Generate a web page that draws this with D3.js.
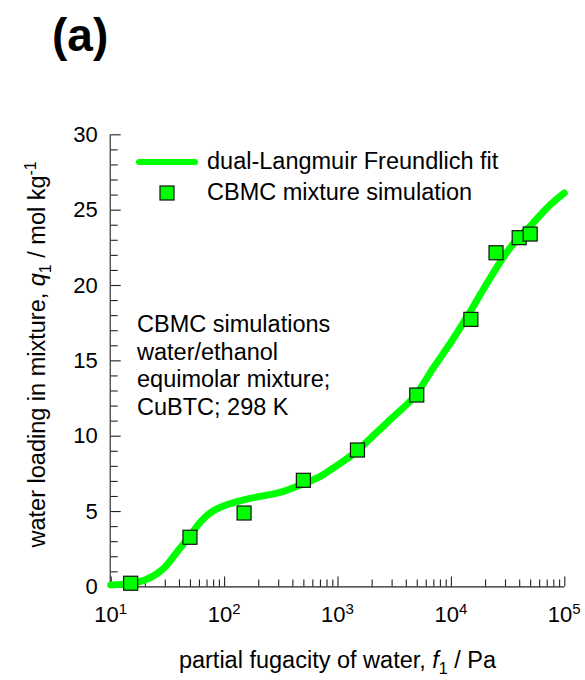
<!DOCTYPE html>
<html>
<head>
<meta charset="utf-8">
<script src="https://cdn.jsdelivr.net/npm/d3@7"></script>
<style>
  html, body { margin: 0; padding: 0; background: #fff; }
  svg { display: block; font-family: Arial, "Liberation Sans", sans-serif; }
</style>
</head>
<body>
<svg id="chart" width="585" height="680"></svg>
<script>
// Dual-Langmuir-Freundlich fit of the water loading (fugacity in Pa, loading in mol/kg)
const fitFugacity = [10, 15, 20, 30, 40, 50, 60, 70, 80, 100, 150, 200, 300, 500, 700,
  1000, 1500, 2000, 3000, 5000, 7000, 10000, 15000, 20000, 30000, 40000, 50000, 70000, 100000];
const fitLoading = [0.1, 0.2, 0.42, 1.27, 2.45, 3.35, 4.15, 4.68, 5.0, 5.35, 5.75, 5.95, 6.2, 6.8, 7.28,
  8.05, 9.0, 9.9, 11.15, 12.8, 14.5, 16.2, 18.3, 19.9, 22.0, 23.2, 23.9, 25.1, 26.1];

// CBMC mixture simulation points
const simFugacity = [15, 50, 150, 500, 1500, 5000, 15000, 25000, 40000, 50000];
const simLoading = [0.21, 3.26, 4.87, 7.04, 9.05, 12.7, 17.72, 22.14, 23.14, 23.38];

// Axis ticks
const xDecades = [1, 2, 3, 4, 5];          // exponents of the labelled decades
const yTicks = [0, 5, 10, 15, 20, 25, 30];

const legendLabels = ["dual-Langmuir Freundlich fit", "CBMC mixture simulation"];
const noteLines = ["CBMC simulations", "water/ethanol", "equimolar mixture;", "CuBTC; 298 K"];

const green = "#00ff00";
const axisColor = "#222";
const fontSize = 23.5;
const tickFont = 22;

const svg = d3.select("#chart");
const margin = { left: 110.7, top: 134.3, right: 20.7, bottom: 93.6 };
const W = 585 - margin.left - margin.right;
const H = 680 - margin.top - margin.bottom;

const x = d3.scaleLog().domain([10, 1e5]).range([0, W]);
const y = d3.scaleLinear().domain([0, 30]).range([H, 0]);

const g = svg.append("g").attr("transform", `translate(${margin.left},${margin.top})`);

// Panel label
svg.append("text")
  .attr("x", 52).attr("y", 51)
  .attr("font-size", 46).attr("font-weight", "bold")
  .text("(a)");

// X axis: major decade ticks and minor ticks, pointing inward
const minorX = [];
for (let e = 1; e < 5; e++) for (let m = 2; m <= 9; m++) minorX.push(m * Math.pow(10, e));

const xMajor = g.append("g").attr("transform", `translate(0,${H})`)
  .call(d3.axisBottom(x).tickValues(xDecades.map(e => Math.pow(10, e))).tickSize(-10).tickFormat(""));
const xMinor = g.append("g").attr("transform", `translate(0,${H})`)
  .call(d3.axisBottom(x).tickValues(minorX).tickSize(-7).tickFormat(""));
xMinor.select(".domain").remove();

// Decade labels with superscript exponents
const xLab = g.append("g").attr("font-size", tickFont).attr("text-anchor", "middle");
xDecades.forEach(e => {
  const t = xLab.append("text").attr("x", x(Math.pow(10, e))).attr("y", H + 35.5);
  t.append("tspan").text("10");
  t.append("tspan").attr("font-size", 15).attr("dy", -8).text(e);
});

// Y axis: major every 5, minor every 1, pointing inward
const yMajor = g.append("g")
  .call(d3.axisLeft(y).tickValues(yTicks).tickSize(-10).tickPadding(13));
yMajor.selectAll("text").attr("font-size", tickFont).attr("font-family", null).attr("fill", "#000");
const yMinor = g.append("g")
  .call(d3.axisLeft(y).tickValues(d3.range(0, 31).filter(v => v % 5 !== 0)).tickSize(-7).tickFormat(""));
yMinor.select(".domain").remove();

g.selectAll(".domain, .tick line").attr("stroke", axisColor).attr("stroke-width", 1.1);
// plain axis lines without end caps
xMajor.select(".domain").attr("d", `M0,0.5H${W}`);
yMajor.select(".domain").attr("d", `M-0.5,${H}V0`);

// Fit curve
const fit = fitFugacity.map((f, i) => [f, fitLoading[i]]);
g.append("path")
  .datum(fit)
  .attr("fill", "none")
  .attr("stroke", green)
  .attr("stroke-width", 7)
  .attr("stroke-linecap", "round")
  .attr("stroke-linejoin", "round")
  .attr("d", d3.line().x(d => x(d[0])).y(d => y(d[1])).curve(d3.curveMonotoneX));

// Simulation squares
const sq = 14;
g.append("g").selectAll("rect")
  .data(simFugacity.map((f, i) => [f, simLoading[i]]))
  .join("rect")
  .attr("x", d => x(d[0]) - sq / 2)
  .attr("y", d => y(d[1]) - sq / 2)
  .attr("width", sq).attr("height", sq)
  .attr("fill", green)
  .attr("stroke", "#111")
  .attr("stroke-width", 1.2);

// Legend
const leg = svg.append("g").attr("font-size", fontSize);
leg.append("line")
  .attr("x1", 139).attr("x2", 195).attr("y1", 162).attr("y2", 162)
  .attr("stroke", green).attr("stroke-width", 6).attr("stroke-linecap", "round");
leg.append("text").attr("x", 207).attr("y", 169).text(legendLabels[0]);
leg.append("rect")
  .attr("x", 167 - sq / 2).attr("y", 193 - sq / 2).attr("width", sq).attr("height", sq)
  .attr("fill", green).attr("stroke", "#111").attr("stroke-width", 1.2);
leg.append("text").attr("x", 207).attr("y", 200).text(legendLabels[1]);

// Simulation conditions note
const note = svg.append("text").attr("font-size", fontSize).attr("x", 137);
noteLines.forEach((s, i) => {
  note.append("tspan").attr("x", 137).attr("y", 331.7 + i * 27.8).text(s);
});

// X axis title
const xt = svg.append("text")
  .attr("x", margin.left + W / 2).attr("y", 668)
  .attr("text-anchor", "middle").attr("font-size", fontSize);
xt.append("tspan").text("partial fugacity of water, ");
xt.append("tspan").attr("font-style", "italic").text("f");
xt.append("tspan").attr("font-size", 16).attr("dy", 6).text("1");
xt.append("tspan").attr("dy", -6).text(" / Pa");

// Y axis title
const yt = svg.append("text")
  .attr("transform", `translate(45,${margin.top + H / 2 - 6}) rotate(-90)`)
  .attr("text-anchor", "middle").attr("font-size", fontSize);
yt.append("tspan").text("water loading in mixture, ");
yt.append("tspan").attr("font-style", "italic").text("q");
yt.append("tspan").attr("font-size", 16).attr("dy", 6).text("1");
yt.append("tspan").attr("dy", -6).text(" / mol kg");
yt.append("tspan").attr("font-size", 16).attr("dy", -9).text("-1");
</script>
</body>
</html>
